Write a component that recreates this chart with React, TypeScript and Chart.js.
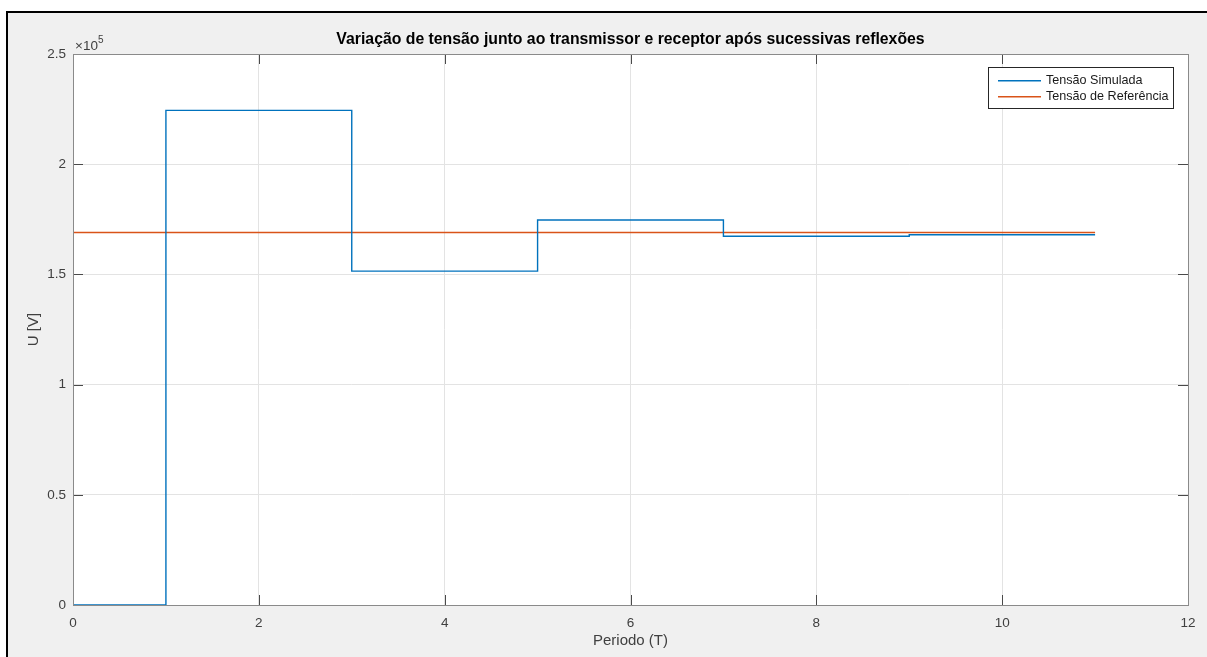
import React, { useEffect, useRef } from "react";
import { Chart, registerables } from "chart.js";

Chart.register(...registerables);

const TITLE = "Variação de tensão junto ao transmissor e receptor após sucessivas reflexões";
const X_LABEL = "Periodo (T)";
const Y_LABEL = "U [V]";
const SERIES_NAMES = ["Tensão Simulada", "Tensão de Referência"];

// Simulated voltage (stairs: each value held until the next period)
const simPeriods = [0, 1, 3, 5, 7, 9, 11];
const simValues = [0, 224400, 151500, 174700, 167300, 168000, 168000];

// Reference voltage
const refPeriods = [0, 11];
const refValues = [169000, 169000];

const xTicks = [0, 2, 4, 6, 8, 10, 12];
const yTicks = [0, 50000, 100000, 150000, 200000, 250000];

const BLUE = "#0072BD";
const ORANGE = "#D95319";
const FONT = "'Liberation Sans', Arial, Helvetica, sans-serif";

const framePlugin = {
  id: "framePlugin",
  beforeDraw(chart: any) {
    const { ctx, width, height, chartArea } = chart;
    ctx.save();
    ctx.fillStyle = "#ffffff";
    ctx.fillRect(0, 0, width, height);
    ctx.fillStyle = "#f0f0f0";
    ctx.fillRect(6, 11, width - 6, height - 11);
    ctx.strokeStyle = "#000000";
    ctx.lineWidth = 2;
    ctx.beginPath();
    ctx.moveTo(7, height);
    ctx.lineTo(7, 12);
    ctx.lineTo(width, 12);
    ctx.stroke();
    ctx.fillStyle = "#ffffff";
    ctx.fillRect(chartArea.left, chartArea.top, chartArea.right - chartArea.left, chartArea.bottom - chartArea.top);
    ctx.restore();
  },
  afterDraw(chart: any) {
    const { ctx, chartArea } = chart;
    const { left, top, right, bottom } = chartArea;
    const xs = chart.scales.x;
    const ys = chart.scales.y;
    ctx.save();
    // ticks inward
    ctx.strokeStyle = "#4a4a4a";
    ctx.lineWidth = 1;
    const tl = 10;
    ctx.beginPath();
    for (const v of xTicks) {
      const px = Math.round(xs.getPixelForValue(v)) + 0.5;
      ctx.moveTo(px, bottom);
      ctx.lineTo(px, bottom - tl);
      ctx.moveTo(px, top);
      ctx.lineTo(px, top + tl);
    }
    for (const v of yTicks) {
      const py = Math.round(ys.getPixelForValue(v)) + 0.5;
      ctx.moveTo(left, py);
      ctx.lineTo(left + tl, py);
      ctx.moveTo(right, py);
      ctx.lineTo(right - tl, py);
    }
    ctx.stroke();
    // axes box
    ctx.strokeStyle = "#8a8a8a";
    ctx.lineWidth = 1;
    ctx.strokeRect(Math.round(left) + 0.5, Math.round(top) + 0.5, Math.round(right - left), Math.round(bottom - top));

    // title
    ctx.fillStyle = "#000000";
    ctx.font = `bold 15.8px ${FONT}`;
    ctx.textAlign = "center";
    ctx.textBaseline = "alphabetic";
    ctx.fillText(TITLE, (left + right) / 2, 44);

    // exponent
    ctx.fillStyle = "#404040";
    ctx.font = `13.5px ${FONT}`;
    ctx.textAlign = "left";
    ctx.fillText("×10", left + 2, 50);
    const w = ctx.measureText("×10").width;
    ctx.font = `10px ${FONT}`;
    ctx.fillText("5", left + 2 + w, 43);

    // legend
    const lx = 988, ly = 67, lw = 185, lh = 41;
    ctx.fillStyle = "#ffffff";
    ctx.fillRect(lx, ly, lw, lh);
    ctx.strokeStyle = "#262626";
    ctx.lineWidth = 1;
    ctx.strokeRect(lx + 0.5, ly + 0.5, lw, lh);
    const colors = [BLUE, ORANGE];
    ctx.font = `12.6px ${FONT}`;
    ctx.textBaseline = "middle";
    SERIES_NAMES.forEach((name, i) => {
      const yy = ly + 13 + i * 16;
      ctx.fillStyle = colors[i];
      ctx.fillRect(998, yy, 43, 1.5);
      ctx.fillStyle = "#1a1a1a";
      ctx.fillText(name, 1046, yy + 1);
    });
    ctx.restore();
  },
};

export default function App() {
  const canvasRef = useRef<HTMLCanvasElement | null>(null);

  useEffect(() => {
    if (!canvasRef.current) return;
    const chart = new Chart(canvasRef.current, {
      type: "line",
      data: {
        datasets: [
          {
            label: SERIES_NAMES[0],
            data: simPeriods.map((p, i) => ({ x: p, y: simValues[i] })),
            borderColor: BLUE,
            borderWidth: 1.4,
            pointRadius: 0,
            stepped: true,
            fill: false,
          },
          {
            label: SERIES_NAMES[1],
            data: refPeriods.map((p, i) => ({ x: p, y: refValues[i] })),
            borderColor: ORANGE,
            borderWidth: 1.4,
            pointRadius: 0,
            fill: false,
          },
        ],
      },
      options: {
        animation: false,
        responsive: false,
        devicePixelRatio: 1,
        layout: { padding: { left: 0, top: 54, right: 19, bottom: 0 } },
        plugins: {
          legend: { display: false },
          title: { display: false },
          tooltip: { enabled: false },
        },
        scales: {
          x: {
            type: "linear",
            min: 0,
            max: 12,
            afterFit: (s: any) => {
              s.height = 52;
            },
            afterBuildTicks: (s: any) => {
              s.ticks = xTicks.map((v) => ({ value: v }));
            },
            ticks: {
              padding: 10,
              color: "#404040",
              font: { family: FONT, size: 13.5 },
              maxRotation: 0,
              callback: (v: any) => String(v),
            },
            grid: { color: "#e3e3e3", drawTicks: false, lineWidth: 1 },
            border: { display: false },
            title: {
              display: true,
              text: X_LABEL,
              color: "#404040",
              font: { family: FONT, size: 15 },
              padding: { top: 0, bottom: 7 },
            },
          },
          y: {
            type: "linear",
            min: 0,
            max: 250000,
            afterFit: (s: any) => {
              s.width = 73;
            },
            afterBuildTicks: (s: any) => {
              s.ticks = yTicks.map((v) => ({ value: v }));
            },
            ticks: {
              padding: 7,
              color: "#404040",
              font: { family: FONT, size: 13.5 },
              callback: (v: any) => String(Number(v) / 100000),
            },
            grid: { color: "#e3e3e3", drawTicks: false, lineWidth: 1 },
            border: { display: false },
            title: {
              display: true,
              text: Y_LABEL,
              color: "#404040",
              font: { family: FONT, size: 15 },
              padding: { top: 25, bottom: 0 },
            },
          },
        },
      },
      plugins: [framePlugin],
    });
    return () => chart.destroy();
  }, []);

  return (
    <div style={{ position: "fixed", left: 0, top: 0, width: 1207, height: 657 }}>
      <canvas ref={canvasRef} width={1207} height={657} style={{ width: 1207, height: 657, display: "block" }} />
    </div>
  );
}
